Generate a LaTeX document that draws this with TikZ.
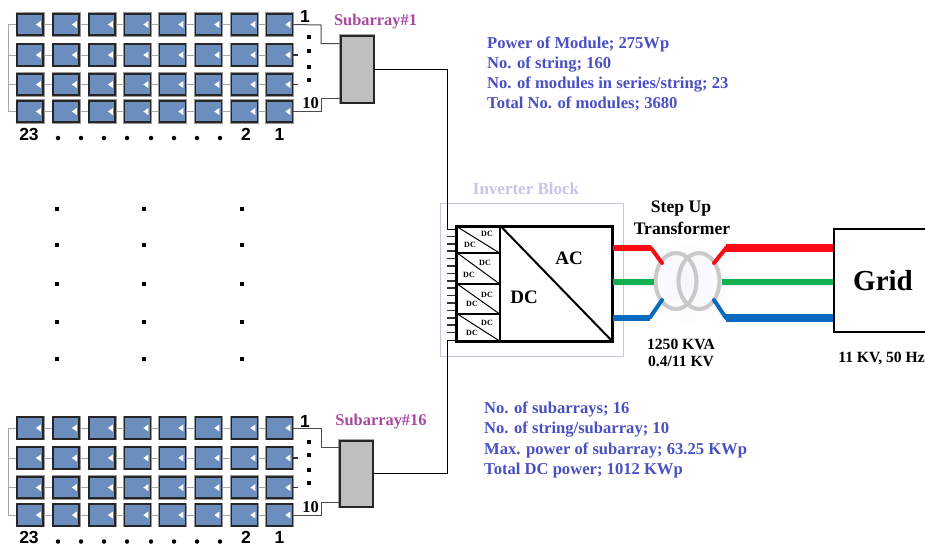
\documentclass[tikz,border=0pt]{standalone}
\usepackage{fontspec}
\setmainfont{Liberation Serif}
\newfontfamily\numfont{Liberation Sans}
\usetikzlibrary{calc,shapes.geometric}
\definecolor{panelblue}{HTML}{6B8EBE}
\definecolor{infoblue}{HTML}{4A50C4}
\definecolor{subpurple}{HTML}{A8489F}
\definecolor{lav}{HTML}{C9C5EA}
\definecolor{ringgrey}{HTML}{C9C9C9}
\definecolor{wirered}{HTML}{FA0A14}
\definecolor{wiregreen}{HTML}{12B04E}
\definecolor{wireblue}{HTML}{0A6ABF}
\tikzset{
  panel/.style={draw=black!85,fill=panelblue,line width=1.7pt,minimum width=26pt,minimum height=21.5pt,inner sep=0pt,preaction={draw=black!40,line width=3pt}},
  string/.style={draw=black!35,line width=1pt},
  lead/.style={draw=black!70,line width=1pt},
  stub/.style={draw=black!80,line width=1.5pt},
  combiner/.style={draw=black!85,fill=black!25,line width=2pt,minimum width=33pt,inner sep=0pt,preaction={draw=black!35,line width=3.4pt}},
  feeder/.style={draw=black,line width=1pt},
  cellbox/.style={draw=black,line width=1.5pt,fill=white,minimum width=43pt,inner sep=0pt},
  info/.style={text=infoblue,font=\bfseries\fontsize{16.6}{18}\selectfont,anchor=west,inner sep=0pt},
  sublabel/.style={text=subpurple,font=\bfseries\fontsize{16.4}{18}\selectfont,inner sep=0pt},
  bk/.style={text=black,font=\bfseries\fontsize{15.6}{17}\selectfont,inner sep=0pt},
  stepfont/.style={text=black,font=\bfseries\fontsize{17.6}{19}\selectfont,inner sep=0pt},
  tiny/.style={text=black,font=\bfseries\fontsize{8}{9}\selectfont,inner sep=0pt},
  big/.style={text=black,font=\bfseries\fontsize{19}{21}\selectfont,inner sep=0pt},
  num/.style={text=black,font=\numfont\bfseries\fontsize{17.5}{19}\selectfont,inner sep=0pt},
  ten/.style={text=black,font=\bfseries\fontsize{16.5}{18}\selectfont,inner sep=0pt},
  dotnode/.style={circle,fill=black,minimum size=4.5pt,inner sep=0pt},
  sqdot/.style={rectangle,fill=black,minimum size=3.6pt,inner sep=0pt},
  phase/.style={line width=6pt,line join=round},
  heavy/.style={line width=7.5pt,line join=round},
  slope/.style={line width=4pt,line cap=round},
  ring/.style={draw=ringgrey,line width=4pt},
}
\begin{document}
\begin{tikzpicture}[x=1pt,y=-1pt]
\useasboundingbox (0,0) rectangle (925,546);
\fill[white] (0,0) rectangle (925,546);

% panel arrays
\foreach \pre/\ya/\yb/\yc/\yd in {t/24.5/55/84.5/111.5,b/428/458/487.5/515}{
  \foreach \r/\y in {1/\ya,2/\yb,3/\yc,4/\yd}{
    \coordinate (\pre rail\r) at (8,\y);
    \foreach \c/\x in {1/30,2/66,3/102,4/137.5,5/172.5,6/208.5,7/244.5,8/279.5}
      \node[panel] (\pre\r\c) at (\x,\y) {};
    \foreach \c in {1,...,8}
      \fill[white] ($(\pre\r\c.east)+(-3,-3.5)$) -- ($(\pre\r\c.east)+(-8,0)$) -- ($(\pre\r\c.east)+(-3,3.5)$) -- cycle;
    \draw[string] (\pre rail\r) -- (\pre\r1.west);
    \foreach \c/\d in {1/2,2/3,3/4,4/5,5/6,6/7,7/8}
      \draw[string] (\pre\r\c.east) -- (\pre\r\d.west);
  }
  \draw[string] (\pre rail1) -- (\pre rail4);
}
\coordinate (te2) at (298,55); \coordinate (te3) at (298,84.5);
\coordinate (be2) at (298,458); \coordinate (be3) at (298,487.5);
\draw[stub] (t28.east) -- (te2); \draw[stub] (t38.east) -- (te3);
\draw[stub] (b28.east) -- (be2); \draw[stub] (b38.east) -- (be3);

% combiner boxes
\node[combiner,minimum height=67pt] (s1) at (357,69) {};
\node[combiner,minimum height=66pt] (s16) at (356,473.5) {};
\coordinate (ta) at (321,25); \coordinate (tb) at (321,43.5);
\coordinate (tc) at (321,111.5); \coordinate (td) at (321,98);
\coordinate (ba) at (321,428); \coordinate (bb) at (321,447);
\coordinate (bc) at (321,515); \coordinate (bd) at (321,502);
\draw[lead] (t18.east) -- (ta) -- (tb) -- (tb-|s1.west);
\draw[lead] (t48.east) -- (tc) -- (td) -- (td-|s1.west);
\draw[lead] (b18.east) -- (ba) -- (bb) -- (bb-|s16.west);
\draw[lead] (b48.east) -- (bc) -- (bd) -- (bd-|s16.west);

% inverter block outline
\node[draw=lav,line width=1pt,minimum width=183pt,minimum height=153pt,inner sep=0pt] (block) at (531.5,279.5) {};

% inverter
\node[draw=black,line width=2pt,fill=white,minimum width=155pt,minimum height=114pt,inner sep=0pt] (inv) at (534.5,284) {};
\coordinate (fa) at (447,69); \coordinate (fb) at (447,229);
\coordinate (fc) at (447,473.5); \coordinate (fd) at (447,340);
\draw[feeder] (s1.east) -- (fa) -- (fb) -- (fb-|inv.west);
\draw[feeder] (s16.east) -- (fc) -- (fd) -- (fd-|inv.west);
\foreach \i in {1,...,14}{
  \coordinate (sa\i) at (447,{229+\i*7.4});
  \draw[stub] (sa\i) -- (sa\i-|inv.west);
}
\node[cellbox,minimum height=26pt] (c1) at (478.5,240) {};
\node[cellbox,minimum height=31pt] (c2) at (478.5,268.5) {};
\node[cellbox,minimum height=30pt] (c3) at (478.5,299) {};
\node[cellbox,minimum height=27pt] (c4) at (478.5,327.5) {};
\foreach \c in {c1,c2,c3,c4}
  \draw[line width=1pt] (\c.north west) -- (\c.south east);
\draw[line width=2pt] (c1.north east) -- (inv.south east);
\draw[line width=2pt] (inv.north west) rectangle (inv.south east);

% transformer
\shade[inner color=blue!4,outer color=white,draw=none] (687.5,281) ellipse (54 and 46);
\node[ring,ellipse,minimum width=41pt,minimum height=56pt,inner sep=0pt] (w1) at (676,281) {};
\node[ring,ellipse,minimum width=41pt,minimum height=56pt,inner sep=0pt] (w2) at (699,281) {};

% grid
\node[draw=black,line width=1.5pt,fill=white,minimum width=98pt,minimum height=103pt,inner sep=0pt,font=\bfseries\fontsize{29}{32}\selectfont] (grid) at (883,280.5) {Grid};

% phases
\coordinate (ra) at (651,248); \coordinate (rb) at (662,263);
\coordinate (rc) at (714,263); \coordinate (rd) at (726,248);
\coordinate (ga) at (612,282);
\coordinate (ba1) at (650,317.5); \coordinate (bb1) at (662,300);
\coordinate (bc1) at (714,300); \coordinate (bd1) at (726,318);
\draw[slope,wirered] (ra) -- (rb);
\draw[slope,wirered] (rc) -- (rd);
\draw[slope,wireblue] (ba1) -- (bb1);
\draw[slope,wireblue] (bc1) -- (bd1);
\draw[phase,wirered] (ra-|inv.east) -- (ra);
\draw[heavy,wirered] (rd) -- (rd-|grid.west);
\draw[phase,wiregreen] (ga-|inv.east) -- (ga-|w1.west);
\draw[phase,wiregreen] (ga-|w2.east) -- (ga-|grid.west);
\draw[phase,wireblue] (ba1-|inv.east) -- (ba1);
\draw[heavy,wireblue] (bd1) -- (bd1-|grid.west);

% inverter labels
\node[tiny] (dc1a) at (487,234) {DC}; \node[tiny] (dc1b) at (470,245) {DC};
\node[tiny] (dc2a) at (485,263) {DC}; \node[tiny] (dc2b) at (469,275) {DC};
\node[tiny] (dc3a) at (487,295) {DC}; \node[tiny] (dc3b) at (472,304) {DC};
\node[tiny] (dc4a) at (487,323) {DC}; \node[tiny] (dc4b) at (472,333) {DC};
\node[big] (acl) at (569,258) {AC};
\node[big] (dcl) at (524,297) {DC};

% text
\node[sublabel] (sl1) at (375.5,21.5) {Subarray\#1};
\node[sublabel] (sl16) at (381,421.5) {Subarray\#16};
\node[text=lav,font=\bfseries\fontsize{17}{19}\selectfont,inner sep=0pt] (blocklabel) at (526,189) {Inverter Block};
\node[info] (i1) at (487,44) {Power of Module; 275Wp};
\node[info] (i2) at (487,64) {No. of string; 160};
\node[info] (i3) at (487,84) {No. of modules in series/string; 23};
\node[info] (i4) at (487,104) {Total No. of modules; 3680};
\node[info] (i5) at (484,409) {No. of subarrays; 16};
\node[info] (i6) at (484,429) {No. of string/subarray; 10};
\node[info] (i7) at (484,450) {Max. power of subarray; 63.25 KWp};
\node[info] (i8) at (484,470) {Total DC power; 1012 KWp};
\node[stepfont] (st1) at (681,208.5) {Step Up};
\node[stepfont] (st2) at (682,228) {Transformer};
\node[bk] (kva) at (681,344.5) {1250 KVA};
\node[bk] (kv) at (681,361.5) {0.4/11 KV};
\node[bk] (hz) at (881.5,358.5) {11 KV, 50 Hz};

% numbers
\foreach \n/\yn/\yt/\yten/\da/\db/\dc/\dd in {u/134/16/103/37/51/67/80,l/537/421/507/442/455/470/483}{
  \node[num] (\n23) at (29,\yn) {23};
  \node[num] (\n2) at (246,\yn) {2};
  \node[num] (\n1) at (279.5,\yn) {1};
  \node[num] (\n top) at (305,\yt) {1};
  \node[ten] (\n ten) at (310.5,\yten) {10};
  \foreach \k/\yk in {1/\da,2/\db,3/\dc,4/\dd}
    \node[sqdot] (\n v\k) at (309,\yk) {};
}
\foreach \k/\xk in {1/58,2/81,3/104,4/127,5/151,6/174,7/197,8/220}{
  \node[dotnode] (ud\k) at (\xk,138) {};
  \node[dotnode] (ld\k) at (\xk,541.5) {};
}
\foreach \cc/\xk in {a/57,b/144,c/242}
  \foreach \rr/\yk in {1/209,2/245,3/284,4/322,5/359}
    \node[sqdot] (m\cc\rr) at (\xk,\yk) {};
\end{tikzpicture}
\end{document}
